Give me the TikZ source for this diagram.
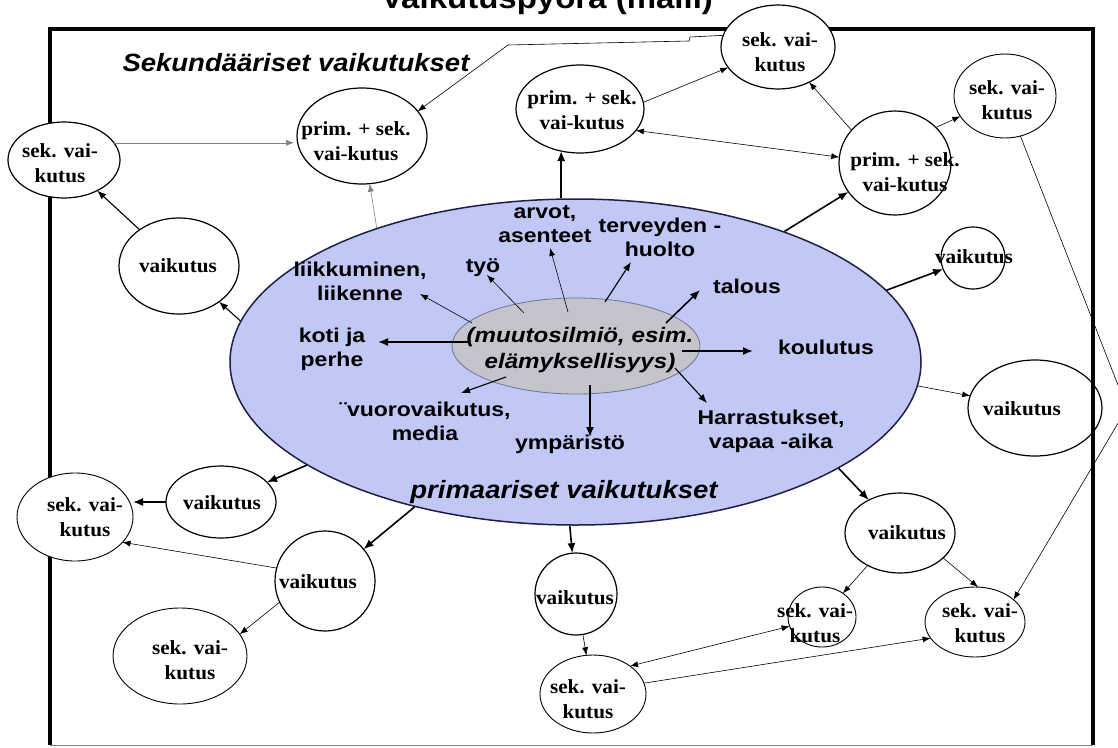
\documentclass[tikz,border=0pt]{standalone}
\usepackage{fontspec}
\setmainfont{Liberation Serif}
\newfontfamily\lsans[FakeStretch=1.15]{Liberation Sans}
\newfontfamily\tsans[FakeStretch=1.1]{Liberation Sans}
\newfontfamily\serf[FakeStretch=1.06]{Liberation Serif}
\usetikzlibrary{shapes.geometric,arrows.meta}
\definecolor{bigfill}{RGB}{194,200,246}
\definecolor{bigdraw}{RGB}{30,30,70}
\definecolor{innerfill}{RGB}{196,196,204}
\definecolor{innerdraw}{RGB}{110,115,150}
\begin{document}
\begin{tikzpicture}[x=1pt,y=-1pt,
  ell/.style={ellipse, draw, fill=white, line width=1.2pt, inner sep=0pt, outer sep=0pt},
  sekell/.style={ell, line width=0.9pt},
  sertxt/.style={font=\serf\bfseries\fontsize{20}{25}\selectfont, align=center, inner sep=0pt},
  lbl/.style={font=\lsans\bfseries\fontsize{20}{24}\selectfont, align=center, inner sep=0pt},
  bigtxt/.style={font=\tsans\bfseries\itshape\fontsize{25}{30}\selectfont, inner sep=0pt},
  innertxt/.style={font=\lsans\bfseries\itshape\fontsize{21}{26}\selectfont, align=center, inner sep=0pt},
  thinarr/.style={-{Latex[length=8pt,width=6pt]}, line width=0.6pt},
  midarr/.style={-{Latex[length=9pt,width=7pt]}, line width=1.1pt},
  thkarr/.style={-{Latex[length=10pt,width=8pt]}, line width=1.6pt},
  dblarr/.style={{Latex[length=8pt,width=6pt]}-{Latex[length=8pt,width=6pt]}, line width=0.6pt}
]
\useasboundingbox (0,0) rectangle (1118,747);
\fill[white] (0,0) rectangle (1118,747);

% title, cut by the top edge as in the reference
\node[font=\tsans\bfseries\fontsize{30}{34}\selectfont, anchor=base, inner sep=0pt] (title) at (547,8) {Vaikutuspyörä (malli)};

% central ellipses
\node[ellipse, draw=bigdraw, fill=bigfill, line width=1.5pt, minimum width=691, minimum height=326, inner sep=0pt] (big) at (575.5,362) {};
\node[ellipse, draw=innerdraw, fill=innerfill, line width=0.8pt, minimum width=248, minimum height=96, inner sep=0pt] (inner) at (576,346) {};

% labels
\node[innertxt] (innerT) at (580,350) {(muutosilmiö, esim.\\elämyksellisyys)};
\node[lbl] (arvot) at (545,224) {arvot,\\asenteet};
\node[lbl] (terv) at (660,237) {terveyden -\\huolto};
\node[lbl] (liik) at (360,281) {liikkuminen,\\liikenne};
\node[lbl] (tyo) at (483,268) {työ};
\node[lbl] (talous) at (747,286) {talous};
\node[lbl] (koti) at (332,349) {koti ja\\perhe};
\node[lbl] (koulutus) at (826,347) {koulutus};
\node[lbl] (vuoro) at (425,421) {¨vuorovaikutus,\\media};
\node[lbl] (ymp) at (570,444) {ympäristö};
\node[lbl] (harr) at (771,431) {Harrastukset,\\vapaa -aika};
\node[bigtxt] (primT) at (564,492) {primaariset vaikutukset};
\node[bigtxt] (sekT) at (296,63) {Sekundääriset vaikutukset};

% inner arrows
\coordinate (s1) at (472,323); \coordinate (e1) at (420,294);
\coordinate (s2) at (524,313); \coordinate (e2) at (487,275);
\coordinate (s3) at (568,312); \coordinate (e3) at (550,248);
\coordinate (s4) at (605,302); \coordinate (e4) at (631,262);
\coordinate (s5) at (666,323); \coordinate (e5) at (700,290);
\coordinate (s6) at (468,342); \coordinate (e6) at (378,342);
\coordinate (s7) at (682,351); \coordinate (e7) at (753,351);
\coordinate (s8) at (506,377); \coordinate (e8) at (461,393);
\coordinate (s9) at (590,385); \coordinate (e9) at (590,437);
\coordinate (s10) at (675,368); \coordinate (e10) at (707,403);
\draw[thinarr] (s1) -- (e1);
\draw[thinarr] (s2) -- (e2);
\draw[thinarr] (s3) -- (e3);
\draw[midarr] (s4) -- (e4);
\draw[thkarr] (s5) -- (e5);
\draw[thkarr] (s6) -- (e6);
\draw[thkarr] (s7) -- (e7);
\draw[midarr] (s8) -- (e8);
\draw[thkarr] (s9) -- (e9);
\draw[midarr] (s10) -- (e10);

% frame
\draw[line width=4pt] (50,745) -- (50,29) -- (1093,29) -- (1093,745);
\draw[gray, line width=1pt] (50,745) -- (1093,745);

% outer ellipses
\node[ell, minimum width=114, minimum height=84] (TopSek) at (778,47) {};
\node[ell, minimum width=130, minimum height=96] (PS1) at (362,136) {};
\node[ell, minimum width=128, minimum height=88] (PS2) at (580,109) {};
\node[sekell, minimum width=102, minimum height=84] (SekR1) at (1005,96) {};
\node[ell, minimum width=112, minimum height=104] (PS3) at (895,163) {};
\node[ell, minimum width=112, minimum height=76] (SekL1) at (64,160) {};
\node[ell, minimum width=120, minimum height=96] (VL1) at (179,266) {};
\node[ell, minimum width=64, minimum height=62] (VR1) at (973,258) {};
\node[ell, fill=none, minimum width=134, minimum height=96] (VR2) at (1035,408) {};
\node[ell, minimum width=110, minimum height=72] (VL2) at (221,502) {};
\node[sekell, minimum width=116, minimum height=88] (SekL2) at (75,517) {};
\node[ell, minimum width=100, minimum height=100] (VL3) at (325,581) {};
\node[sekell, minimum width=134, minimum height=96] (SekL3) at (180,656) {};
\node[ell, minimum width=82, minimum height=82] (VB1) at (576,594) {};
\node[sekell, minimum width=106, minimum height=78] (SekB1) at (593,694) {};
\node[sekell, minimum width=68, minimum height=60] (SekB2) at (822,617) {};
\node[ell, minimum width=110, minimum height=80] (VB2) at (900,533) {};
\node[sekell, minimum width=100, minimum height=70] (SekB3) at (975,622) {};

% texts in ellipses
\node[sertxt] (tTopSek) at (780,52) {sek. vai-\\kutus};
\node[sertxt] (tPS1) at (356,141) {prim. + sek.\\vai-kutus};
\node[sertxt] (tPS2) at (582,110) {prim. + sek.\\vai-kutus};
\node[sertxt] (tSekR1) at (1007,100) {sek. vai-\\kutus};
\node[sertxt] (tPS3) at (905,172) {prim. + sek.\\vai-kutus};
\node[sertxt] (tSekL1) at (60,163) {sek. vai-\\kutus};
\node[sertxt] (tVL1) at (178,266) {vaikutus};
\node[sertxt] (tVR1) at (974,257) {vaikutus};
\node[sertxt] (tVR2) at (1022,409) {vaikutus};
\node[sertxt] (tVL2) at (222,503) {vaikutus};
\node[sertxt] (tSekL2) at (85,517) {sek. vai-\\kutus};
\node[sertxt] (tVL3) at (318,582) {vaikutus};
\node[sertxt] (tSekL3) at (190,660) {sek. vai-\\kutus};
\node[sertxt] (tVB1) at (575,598) {vaikutus};
\node[sertxt] (tSekB1) at (588,699) {sek. vai-\\kutus};
\node[sertxt] (tSekB2) at (815,623) {sek. vai-\\kutus};
\node[sertxt] (tVB2) at (907,533) {vaikutus};
\node[sertxt] (tSekB3) at (980,623) {sek. vai-\\kutus};

% connectors
\coordinate (j1) at (690,37);
\coordinate (j2) at (689,41);
\coordinate (j3) at (508,45);
\draw[thinarr] (TopSek.168) -- (j1) -- (j2) -- (j3) -- (PS1.24);
\draw[thinarr, gray] (SekL1.19) -- ([xshift=-3pt]SekL1.19 -| PS1.west);
\draw[midarr] (VL1) -- (SekL1);
\draw[midarr] (big.173) -- (VL1);
\draw[thinarr, gray] (big.146) -- (PS1);
\draw[thkarr] (big.95) -- ([yshift=2pt]big.95 |- PS2.south);
\draw[thinarr] (PS2.6) -- (TopSek);
\draw[dblarr] (PS2.-21) -- (PS3.174);
\draw[thinarr] (PS3.143) -- (TopSek);
\draw[thinarr] (PS3.41) -- (SekR1);
\draw[thkarr] (big.32) -- (PS3);
\draw[thkarr] (big.13) -- (VR1);
\draw[thinarr] (big.-4) -- (VR2);
\coordinate (apex) at (1127,408);
\draw[thinarr] (SekR1.-69) -- (apex) -- (SekB3.30);
\draw[thkarr] (big.-22) -- (VB2);
\draw[thinarr] (VB2.225) -- (SekB2);
\draw[thinarr] (VB2.-30) -- (SekB3.85);
\draw[dblarr] (SekB1.37) -- (SekB2.196);
\draw[thinarr] (SekB1.12) -- (SekB3.200);
\draw[thinarr] (VB1) -- (SekB1);
\draw[thkarr] (big.268) -- (VB1);
\draw[thkarr] (big.222) -- (VL3);
\draw[thkarr] (big.201) -- (VL2);
\draw[thkarr] (VL2.west) -- (VL2.west -| SekL2.east);
\draw[thinarr] (VL3.165) -- (SekL2.-28);
\draw[thinarr] (VL3.205) -- (SekL3.20);
\end{tikzpicture}
\end{document}
